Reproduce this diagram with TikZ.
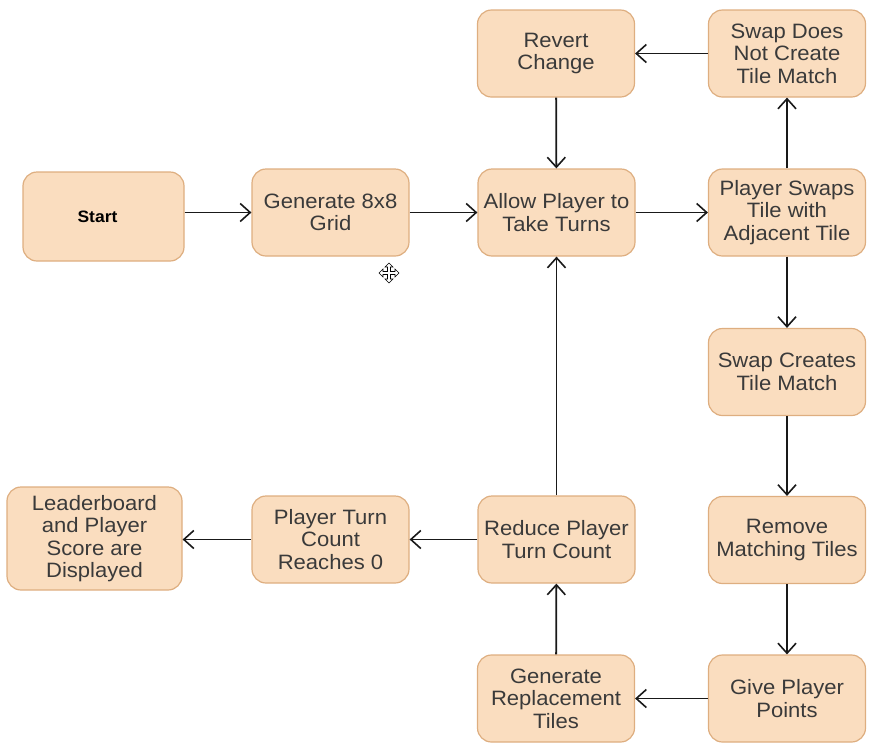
\documentclass[tikz,border=0pt]{standalone}
\usepackage{fontspec}
\setmainfont{Liberation Sans}[FakeStretch=1.06]
\usetikzlibrary{arrows.meta}
\definecolor{boxfill}{RGB}{250,221,191}
\definecolor{boxline}{RGB}{222,174,128}
\definecolor{txt}{RGB}{58,58,58}
\definecolor{arrline}{RGB}{25,25,25}
\tikzset{
  box/.style={draw=boxline, fill=boxfill, line width=1.2pt, rounded corners=14pt,
    minimum width=157pt, minimum height=87pt, align=center, text=txt,
    font=\fontsize{20.8}{22.5}\selectfont, inner sep=2pt},
  arr/.style={draw=arrline, line width=1.8pt,
    -{Straight Barb[length=10pt,width=18pt,line width=1.6pt]}},
}
\begin{document}
\begin{tikzpicture}[x=1pt,y=-1pt]
\useasboundingbox (0,0) rectangle (876,748);
\node[box, minimum width=161pt, minimum height=89pt, text=black, font=\fontsize{16.5}{18}\selectfont\bfseries] (start) at (103.5,216.5) {Start\hspace*{12pt}};
\node[box] (gen) at (330.5,212.5) {Generate 8x8\\Grid};
\node[box] (allow) at (556.5,212.5) {Allow Player to\\Take Turns};
\node[box] (swaps) at (787,212.5) {Player Swaps\\Tile with\\Adjacent Tile};
\node[box] (revert) at (556,53.5) {Revert\\Change};
\node[box] (nomatch) at (787,53.5) {Swap Does\\Not Create\\Tile Match};
\node[box] (creates) at (787,372) {Swap Creates\\Tile Match};
\node[box] (remove) at (787,540) {Remove\\Matching Tiles};
\node[box] (give) at (787,698.5) {Give Player\\Points};
\node[box] (genrep) at (556,698.5) {Generate\\Replacement\\Tiles};
\node[box] (reduce) at (556.5,539.5) {Reduce Player\\Turn Count};
\node[box] (count) at (330.5,539.5) {Player Turn\\Count\\Reaches 0};
\node[box, minimum width=175pt, minimum height=103pt] (leader) at (94.5,538.5) {Leaderboard\\and Player\\Score are\\Displayed};

\draw[arr] (start.east |- gen.west) -- (gen.west);
\draw[arr] (gen) -- (allow);
\draw[arr] (allow) -- (swaps);
\draw[arr] (swaps) -- (nomatch);
\draw[arr] (nomatch) -- (revert);
\draw[arr] (revert) -- (allow);
\draw[arr] (swaps) -- (creates);
\draw[arr] (creates) -- (remove);
\draw[arr] (remove) -- (give);
\draw[arr] (give) -- (genrep);
\draw[arr] (genrep) -- (reduce);
\draw[arr] (reduce) -- (allow);
\draw[arr] (reduce) -- (count);
\draw[arr] (count) -- (leader.east |- count.west);

% mouse cursor (move icon)
\draw[fill=white, draw=black, line width=0.6pt, shift={(389,273)}]
  (0,-10) -- (4,-6) -- (1.5,-6) -- (1.5,-1.5) -- (6,-1.5) -- (6,-4) -- (10,0)
  -- (6,4) -- (6,1.5) -- (1.5,1.5) -- (1.5,6) -- (4,6) -- (0,10) -- (-4,6)
  -- (-1.5,6) -- (-1.5,1.5) -- (-6,1.5) -- (-6,4) -- (-10,0) -- (-6,-4)
  -- (-6,-1.5) -- (-1.5,-1.5) -- (-1.5,-6) -- (-4,-6) -- cycle;
\end{tikzpicture}
\end{document}
